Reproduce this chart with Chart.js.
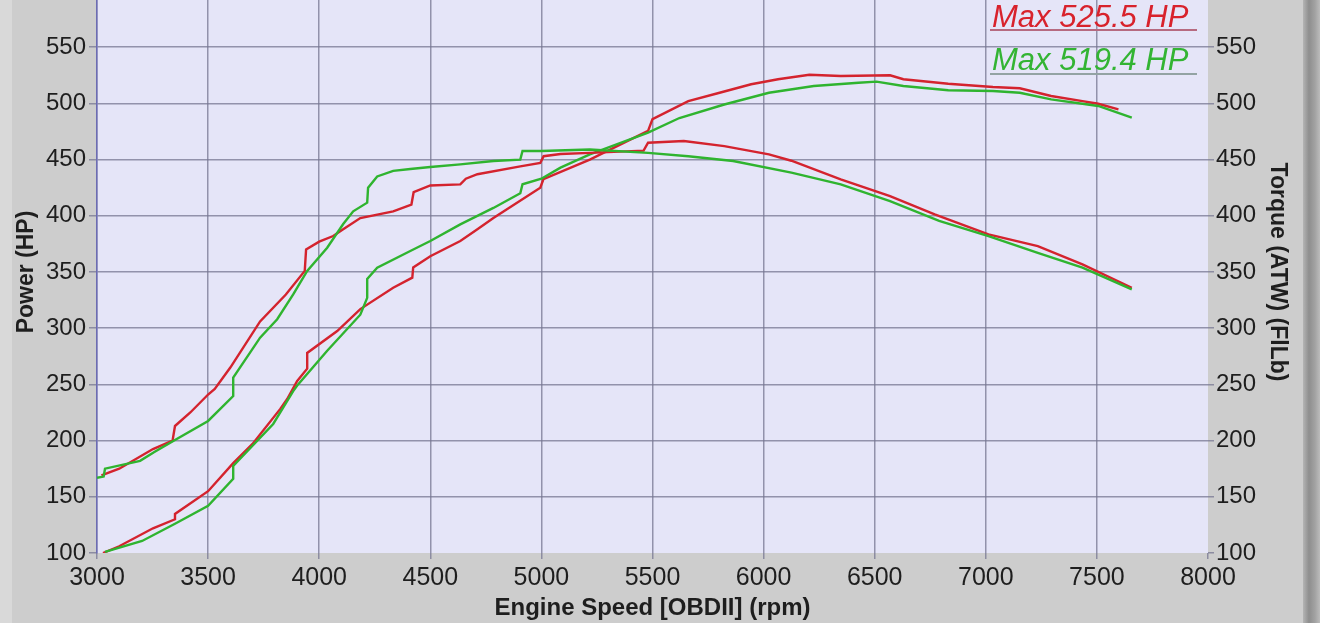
<!DOCTYPE html>
<html lang="en">
<head>
  <meta charset="UTF-8" />
  <title>Dyno Power / Torque</title>
  <script src="https://cdn.jsdelivr.net/npm/chart.js"></script>
  <style>
    html, body {
      margin: 0;
      padding: 0;
      width: 1320px;
      height: 623px;
      overflow: hidden;
      background: #cdcdcd;
      font-family: 'Liberation Sans', Arial, sans-serif;
    }
    .left-strip {
      position: absolute;
      left: 0; top: 0;
      width: 12px; height: 623px;
      background: #d9d9d9;
    }
    .right-strip {
      position: absolute;
      left: 1303px; top: 0;
      width: 17px; height: 623px;
      background: linear-gradient(to right, #b4b4b4, #8e8e8e 35%, #a2a2a2 70%, #bcbcbc);
    }
    .chart-box {
      position: absolute;
      left: 0;
      top: -30px;
      width: 1304px;
      height: 653px;
    }
    .max-label {
      position: absolute;
      left: 992px;
      font-size: 31px;
      line-height: 31px;
      font-style: italic;
      white-space: nowrap;
    }
    .max-line {
      position: absolute;
      left: 990px;
      width: 207px;
      height: 2px;
    }
  </style>
</head>
<body>
  <div class="left-strip"></div>
  <div class="right-strip"></div>
  <div class="chart-box"><canvas id="dyno"></canvas></div>

  <div class="max-label" style="top:1px; color:#d8222c;">Max 525.5 HP</div>
  <div class="max-line" style="top:29px; background:#b66a80;"></div>
  <div class="max-label" style="top:44px; color:#33b433;">Max 519.4 HP</div>
  <div class="max-line" style="top:73px; background:#93a3a3;"></div>

  <script>
    // tick values
    const rpmTicks = [3000, 3500, 4000, 4500, 5000, 5500, 6000, 6500, 7000, 7500, 8000];
    const valueTicks = [100, 150, 200, 250, 300, 350, 400, 450, 500, 550, 600];

    // red run - power (HP)
    const redPowerRpm = [3027, 3100, 3252, 3351, 3351, 3500, 3613, 3700, 3824, 3856, 3901, 3946, 3946, 4081, 4185, 4333, 4419, 4423, 4500, 4635, 4712, 4784, 4995, 5009, 5218, 5480, 5500, 5661, 5802, 5944, 6065, 6206, 6347, 6569, 6629, 6831, 7032, 7153, 7294, 7435, 7506, 7597];
    const redPowerHp = [100, 106, 122, 130, 134.7, 155, 180, 197, 228, 237, 253, 264, 278, 297.5, 317, 336, 345, 354, 364, 377.6, 388, 398, 425, 432.5, 450, 475.5, 486, 502, 509.5, 517, 521.5, 525.5, 524.4, 525, 521.5, 517.5, 514.6, 513.5, 506.6, 502, 499.7, 494.7];

    // green run - power (HP)
    const greenPowerRpm = [3036, 3203, 3351, 3500, 3613, 3613, 3793, 3883, 3905, 4036, 4185, 4216, 4216, 4261, 4410, 4500, 4635, 4784, 4905, 4915, 5000, 5086, 5218, 5480, 5621, 5823, 6024, 6226, 6427, 6508, 6629, 6831, 7032, 7153, 7294, 7506, 7657];
    const greenPowerHp = [101, 110.7, 126, 142, 166, 177.5, 214.8, 244, 250, 280, 312, 327, 343.8, 353.8, 368.7, 377.6, 392.4, 407, 420, 428, 433, 442.8, 454.7, 474, 487, 499, 509.5, 515.5, 518.4, 519.4, 515.5, 511.7, 511, 509.5, 503.6, 497.7, 487.3];

    // red run - torque (ft-lb)
    const redTorqueRpm = [3020, 3100, 3252, 3340, 3351, 3420, 3500, 3530, 3600, 3734, 3850, 3935, 3941, 4000, 4063, 4108, 4185, 4333, 4415, 4425, 4500, 4635, 4660, 4712, 4905, 4995, 5010, 5086, 5218, 5460, 5480, 5641, 5823, 6024, 6125, 6347, 6569, 6770, 7012, 7234, 7435, 7657];
    const redTorqueLbft = [169, 175, 192.5, 200, 213, 225, 241, 246, 265, 306, 330, 351, 370, 377, 382, 388, 398, 404, 410, 421, 427, 428, 433, 437, 444, 447, 453, 455, 456, 458, 465, 466.5, 462, 454.7, 449, 432.5, 417.6, 401.3, 383.5, 373, 356.8, 336];

    // green run - torque (ft-lb)
    const greenTorqueRpm = [3000, 3030, 3036, 3194, 3260, 3351, 3500, 3613, 3613, 3734, 3811, 3883, 3946, 4036, 4108, 4153, 4216, 4220, 4261, 4333, 4410, 4500, 4635, 4784, 4905, 4915, 5000, 5218, 5480, 5661, 5863, 6125, 6347, 6569, 6790, 7012, 7234, 7435, 7657];
    const greenTorqueLbft = [167, 168, 175, 182, 190, 200.6, 217.5, 239.7, 256, 291.6, 308, 330, 351, 371.6, 392.7, 404, 411.7, 425, 435, 440, 441.6, 443.4, 445.8, 448.8, 450, 457.6, 457.6, 459, 456, 453, 448.8, 438.4, 428, 413, 395.4, 382, 367, 353.8, 334.6];

    const RED = '#d4232e';
    const GREEN = '#2fb42f';
    const GRID = 'rgba(118, 118, 146, 0.75)';

    const toPoints = (xs, ys) => xs.map((x, i) => ({ x: x, y: ys[i] }));

    const line = (data, color) => ({
      data: data,
      borderColor: color,
      borderWidth: 2.4,
      pointRadius: 0,
      tension: 0,
      fill: false
    });

    // lavender plot area
    const plotBg = {
      id: 'plotBg',
      beforeDraw(chart) {
        const { ctx, chartArea: a } = chart;
        ctx.save();
        ctx.fillStyle = '#e5e5f8';
        ctx.fillRect(a.left, a.top, a.right - a.left, a.bottom - a.top);
        ctx.restore();
      }
    };

    const FAMILY = "'Liberation Sans', Arial, sans-serif";
    const plain = v => String(v);

    new Chart(document.getElementById('dyno'), {
      type: 'line',
      data: {
        datasets: [
          line(toPoints(greenTorqueRpm, greenTorqueLbft), GREEN),
          line(toPoints(redTorqueRpm, redTorqueLbft), RED),
          line(toPoints(greenPowerRpm, greenPowerHp), GREEN),
          line(toPoints(redPowerRpm, redPowerHp), RED)
        ]
      },
      options: {
        responsive: true,
        maintainAspectRatio: false,
        animation: false,
        layout: { padding: { top: 21, left: 0, right: 0, bottom: 0 } },
        plugins: {
          legend: { display: false },
          tooltip: { enabled: false }
        },
        scales: {
          x: {
            type: 'linear',
            min: 3000,
            max: 8000,
            afterBuildTicks: s => { s.ticks = rpmTicks.map(v => ({ value: v })); },
            afterFit: s => { s.height = 70; },
            border: { display: false },
            grid: {
              color: c => (c.tick && c.tick.value === 8000) ? 'transparent' : GRID,
              tickColor: GRID,
              lineWidth: 1.5,
              tickLength: 6
            },
            ticks: { color: '#1e1e1e', font: { family: FAMILY, size: 25 }, padding: 4, maxRotation: 0, callback: plain },
            title: {
              display: true,
              text: 'Engine Speed [OBDII] (rpm)',
              color: '#1e1e1e',
              font: { family: FAMILY, size: 24, weight: 'bold' },
              padding: { top: 0, bottom: 0 }
            }
          },
          y: {
            position: 'left',
            min: 100,
            max: 600,
            afterBuildTicks: s => { s.ticks = valueTicks.map(v => ({ value: v })); },
            afterFit: s => { s.width = 97; },
            border: { display: true, color: '#6c6cb4', width: 1.5 },
            grid: {
              color: c => (c.tick && c.tick.value === 100) ? 'transparent' : GRID,
              tickColor: GRID,
              lineWidth: 1.5,
              tickLength: 8
            },
            ticks: { color: '#1e1e1e', font: { family: FAMILY, size: 24 }, padding: 3, callback: plain },
            title: {
              display: true,
              text: 'Power (HP)',
              color: '#1e1e1e',
              font: { family: FAMILY, size: 23, weight: 'bold' },
              padding: { top: 13, bottom: 0 }
            }
          },
          y2: {
            position: 'right',
            min: 100,
            max: 600,
            afterBuildTicks: s => { s.ticks = valueTicks.map(v => ({ value: v })); },
            afterFit: s => { s.width = 96; },
            border: { display: false },
            grid: {
              drawOnChartArea: false,
              tickColor: GRID,
              lineWidth: 1.5,
              tickLength: 6
            },
            ticks: { color: '#1e1e1e', font: { family: FAMILY, size: 24 }, padding: 2, callback: plain },
            title: {
              display: true,
              text: 'Torque (ATW) (FlLb)',
              color: '#1e1e1e',
              font: { family: FAMILY, size: 23, weight: 'bold' },
              padding: { top: 13, bottom: 0 }
            }
          }
        }
      },
      plugins: [plotBg]
    });
  </script>
</body>
</html>
